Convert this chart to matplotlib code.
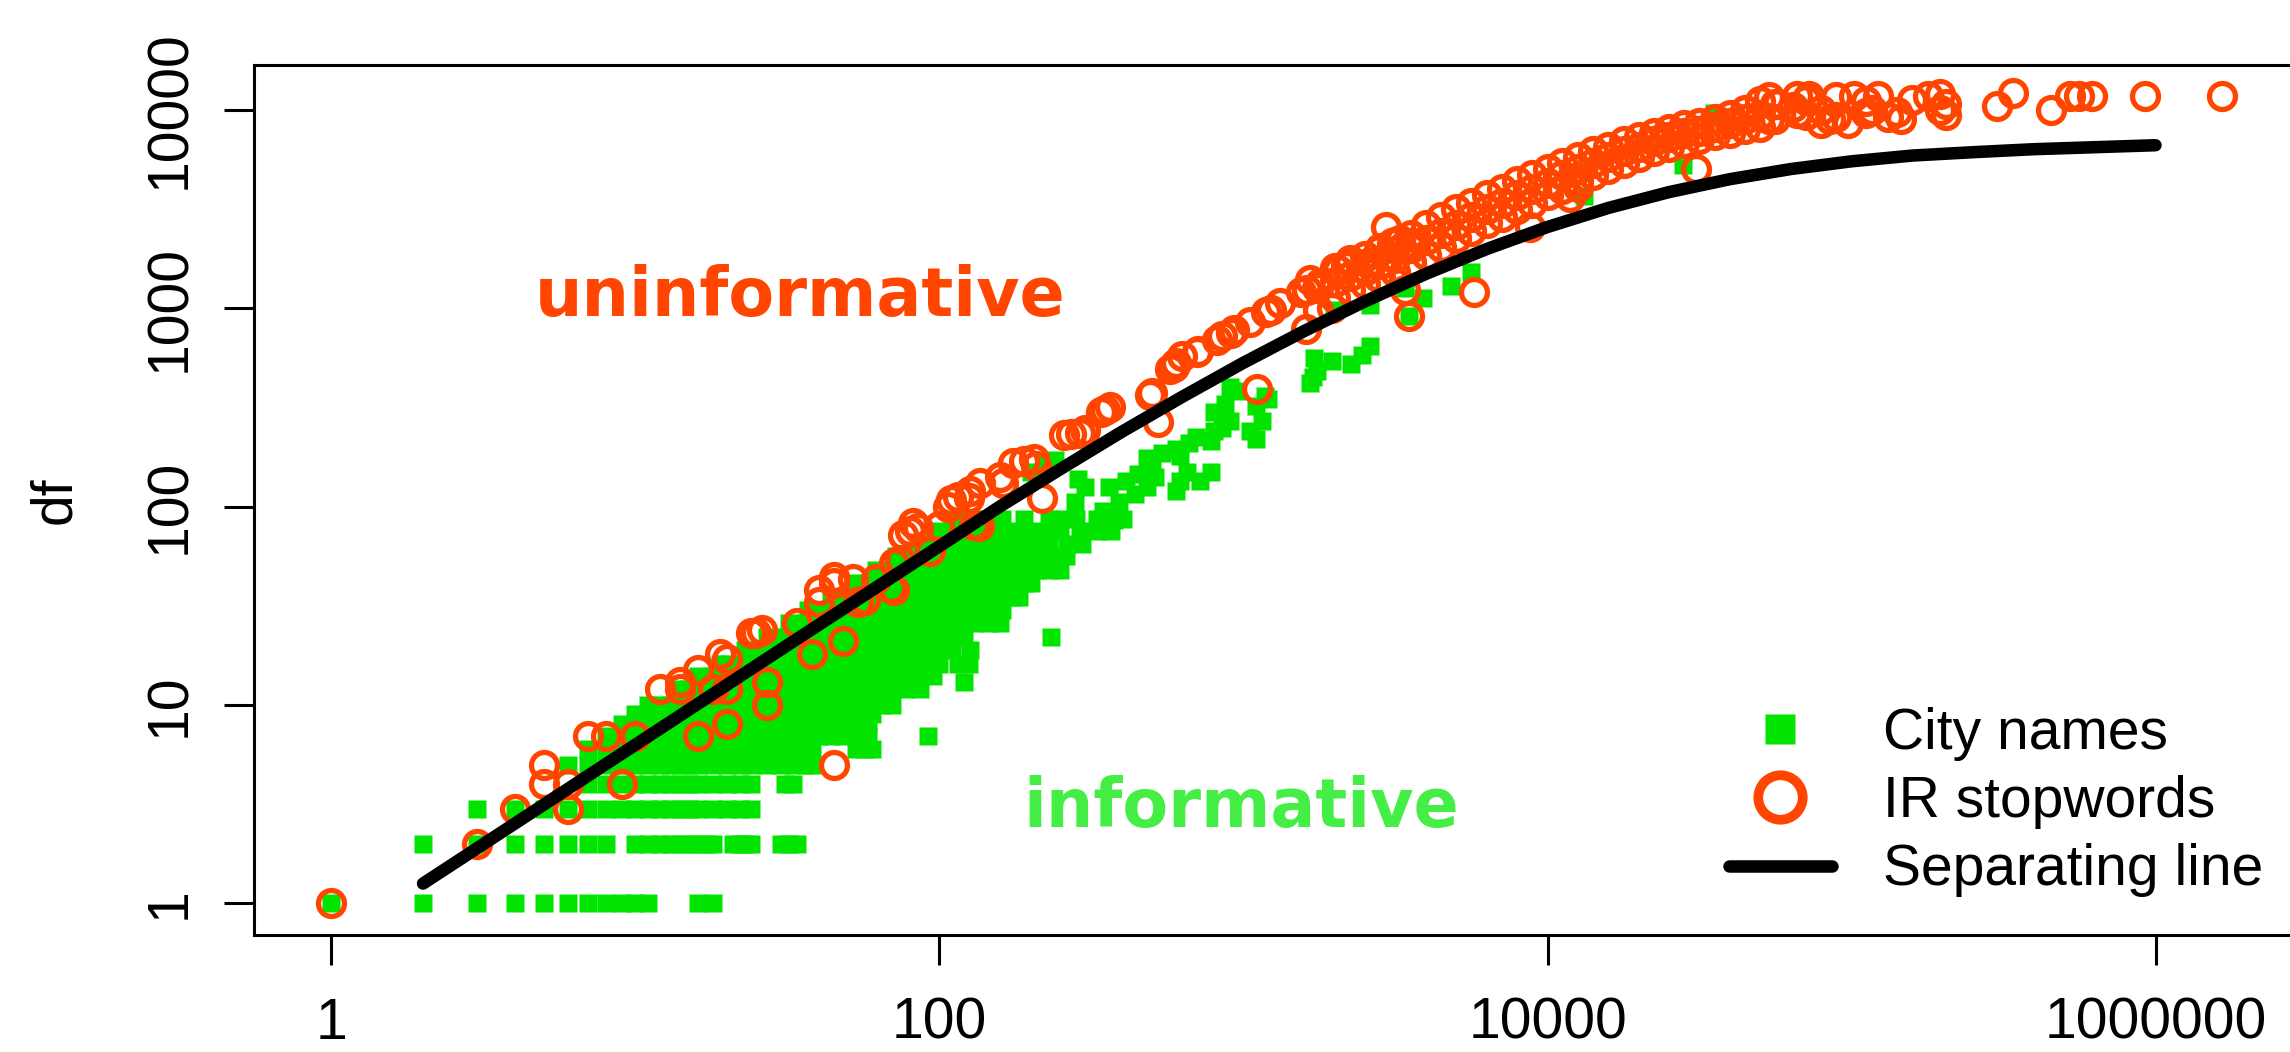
import matplotlib.pyplot as plt
from matplotlib.lines import Line2D
from matplotlib.ticker import NullLocator

plt.rcParams['font.family'] = ['Liberation Sans', 'DejaVu Sans']

# cores
green = '#00e400'
green_text = '#44ee44'
orange = '#ff4500'

# City names: linhas densas (df fixo, varios tf)
city_row_df = [1, 2, 3, 4, 5, 6, 7, 8, 9, 10, 12, 14, 16, 19, 22, 26, 30, 35, 41, 48, 56, 65, 75, 87]
city_row_tf = [
    [1, 2, 3, 4, 5, 6, 7, 8, 9, 10, 11, 16, 18],
    [2, 3, 4, 5, 6, 7, 8, 10, 11, 12, 13, 14, 15, 16, 17, 18, 21, 22, 23, 24, 30, 32, 34],
    [3, 4, 5, 6, 7, 8, 9, 10, 11, 12, 13, 14, 15, 16, 18, 20, 22, 24],
    [7, 8, 9, 10, 11, 12, 13, 14, 15, 16, 18, 20, 22, 24, 31, 33],
    [6, 7, 8, 9, 10, 11, 12, 13, 14, 15, 16, 18, 20, 22, 24, 27, 30, 33, 36, 38],
    [7, 8, 9, 10, 11, 12, 13, 14, 15, 16, 18, 20, 22, 24, 27, 30, 33, 36, 38, 53, 57, 60],
    [8, 9, 10, 11, 12, 13, 14, 15, 16, 18, 20, 22, 24, 27, 30, 33, 36, 40, 44, 48, 53, 58, 92],
    [9, 10, 11, 12, 13, 14, 15, 16, 18, 20, 22, 24, 27, 30, 33, 36, 40, 44, 48, 53, 58],
    [10, 11, 12, 13, 14, 15, 16, 18, 20, 22, 24, 27, 30, 33, 36, 40, 44, 48, 53, 60],
    [11, 12, 13, 14, 15, 16, 18, 20, 22, 24, 27, 30, 33, 36, 40, 44, 48, 53, 58, 64, 70],
    [14, 15, 16, 18, 20, 22, 24, 27, 30, 33, 36, 40, 44, 48, 53, 58, 64, 70, 77, 86],
    [16, 18, 20, 22, 24, 27, 30, 33, 36, 40, 44, 48, 53, 58, 64, 70, 77, 85, 95],
    [19, 20, 22, 24, 27, 30, 33, 36, 40, 44, 48, 53, 58, 64, 70, 77, 85, 93, 100, 115, 125],
    [23, 24, 27, 30, 33, 36, 40, 44, 48, 53, 58, 64, 70, 77, 85, 93, 100, 110, 126],
    [27, 30, 33, 36, 40, 44, 48, 53, 58, 64, 70, 77, 85, 93, 100, 110, 120],
    [32, 36, 40, 44, 48, 53, 58, 64, 70, 77, 85, 93, 100, 110, 120, 130, 145, 158],
    [37, 40, 44, 48, 53, 58, 64, 70, 77, 85, 93, 100, 110, 120, 130, 145, 160],
    [44, 48, 53, 58, 64, 70, 77, 85, 93, 100, 110, 120, 130, 145, 160, 175, 183],
    [52, 58, 64, 70, 77, 85, 93, 100, 110, 120, 130, 145, 160, 175, 190, 200],
    [62, 70, 77, 85, 93, 100, 110, 120, 130, 145, 160, 175, 190, 210, 230, 250],
    [72, 77, 85, 93, 100, 110, 120, 130, 145, 160, 175, 190, 210, 230, 260],
    [85, 93, 100, 110, 120, 130, 145, 160, 175, 190, 210, 230, 262, 295],
    [100, 110, 120, 130, 145, 160, 175, 190, 210, 230, 250, 290, 330, 367],
    [115, 130, 145, 160, 190, 230, 250, 282, 330, 373, 400],
]

# City names: pontos esparsos
city_tf = [120, 233, 220, 240, 200, 280, 300, 285, 345, 390, 360, 410, 375,
           440, 480, 450, 510, 500, 540, 480, 600, 660, 700, 620, 600, 650, 620,
           720, 780, 780, 850, 900, 800, 800, 870, 950, 900, 1050, 1150, 1100,
           1100, 1180, 1200, 1650, 1750, 1950, 1700, 1690, 2250, 2450, 2600,
           2600, 1990, 3400, 3900, 4800, 5620, 3500, 13200, 28000, 35300]
city_df = [13, 22, 165, 172, 150, 105, 125, 138, 95, 105, 125, 135, 86,
           115, 125, 145, 140, 160, 185, 175, 195, 210, 225, 180, 120, 150, 135,
           135, 150, 215, 250, 270, 240, 300, 330, 380, 400, 240, 270, 220,
           320, 360, 347, 420, 480, 540, 560, 447, 520, 580, 640,
           1040, 980, 1260, 1120, 1290, 1510, 910, 3650, 5260, 9600]

# IR stopwords: parte baixa e media
stop_tf = [1, 3, 4, 6, 5, 6, 9, 5, 7, 8, 10, 16, 20, 27, 12, 14, 18, 20, 14, 27,
           16, 20, 19, 38, 48, 24, 25, 26, 34, 40, 54, 57, 40, 45, 45, 52, 45,
           62, 69, 71, 71, 74, 76, 80, 85, 82, 100, 93, 107, 109, 115, 125, 126,
           136, 130, 135, 158, 162, 175, 190, 204, 208, 218, 257, 270, 290, 302,
           339, 350, 364, 491, 500, 524, 575, 590, 600, 630, 705, 710, 820, 850,
           910, 930, 1050, 1110, 1190, 1230, 1320, 1540, 1600, 1620, 1660, 1740,
           1760, 1790, 1950, 2040, 2180, 2240, 2530, 2560, 2760, 2800, 2940,
           3090, 3400, 3500, 3020, 3280, 3540, 5720, 8760, 30800]
stop_df = [1, 2, 3, 3, 4, 4, 4, 5, 7, 7, 7, 7, 8, 10, 12, 12, 12, 12, 13, 13,
           15, 17, 18, 18, 21, 23, 23, 24, 26, 33, 33, 34, 38, 41, 44, 43, 5,
           43, 39, 38, 52, 54, 72, 75, 78, 83, 80, 60, 100, 108, 112, 110, 120,
           132, 81, 80, 141, 132, 166, 170, 174, 160, 111, 229, 232, 235, 243,
           300, 305, 316, 365, 374, 268, 490, 507, 530, 570, 597, 610, 693, 720,
           752, 778, 850, 389, 950, 980, 1060, 1200, 780, 1230, 1380, 1260,
           980, 1340, 1000, 1560, 1620, 1740, 1550, 1690, 1440, 1950, 2570,
           2120, 1230, 910, 1820, 2200, 2130, 1200, 2570, 5000]

# IR stopwords: faixa densa (tf 2000 a 50000)
band_tf = [2000, 2000, 2000, 2240, 2240, 2240, 2510, 2510, 2510, 2820, 2820, 2820,
           3160, 3160, 3160, 3550, 3550, 3550, 3980, 3980, 3980, 4470, 4470, 4470,
           5010, 5010, 5010, 5620, 5620, 5620, 6310, 6310, 6310, 7080, 7080, 7080,
           7940, 7940, 7940, 8910, 8910, 8910, 10000, 10000, 10000, 11200, 11200, 11200,
           12600, 12600, 12600, 14100, 14100, 14100, 15800, 15800, 15800,
           17800, 17800, 17800, 20000, 20000, 20000, 22400, 22400, 22400,
           25100, 25100, 25100, 28200, 28200, 28200, 31600, 31600, 31600,
           35500, 35500, 35500, 39800, 39800, 39800, 44700, 44700, 44700,
           50100, 50100, 50100, 11900, 12600]
band_df = [1120, 1350, 1585, 1230, 1445, 1700, 1320, 1550, 1820, 1410, 1660, 2000,
           1510, 1780, 2140, 1700, 2000, 2340, 1860, 2190, 2630, 2040, 2400, 2880,
           2240, 2630, 3160, 2450, 2880, 3390, 2690, 3160, 3720, 2880, 3390, 3980,
           3160, 3720, 4370, 3390, 3980, 4680, 3720, 4270, 5010, 3980, 4680, 5370,
           4370, 5010, 5750, 4680, 5370, 6170, 5010, 5750, 6460,
           5370, 6170, 6920, 5750, 6460, 7240, 6170, 6920, 7590,
           6460, 7240, 7940, 6760, 7590, 8320, 7080, 7760, 8510,
           7410, 8130, 8910, 7590, 8510, 9330, 7940, 8910, 10000,
           8130, 9330, 11000, 3630, 4070]

# IR stopwords: grupo do topo (tf > 50000)
top_tf = [53700, 53700, 56200, 56200, 57500, 64300, 66100, 66100, 70800, 70800,
          72400, 79400, 79400, 85100, 89100, 89100, 97700, 102000, 112000, 112000,
          117000, 122000, 132000, 141000, 145000, 158000, 178000, 195000, 195000,
          204000, 204000, 302000, 339000, 452000, 525000, 562000, 617000, 927000,
          1660000]
top_df = [11600, 8910, 8910, 10700, 10700, 10300, 11700, 9550, 9330, 11200,
          11700, 8510, 10000, 8910, 9120, 11500, 8510, 11700, 9550, 11000,
          10000, 11700, 9190, 9770, 8910, 11200, 11700, 12000, 10000,
          10700, 9330, 10400, 12100, 10000, 11700, 11700, 11700, 11700,
          11700]

# linha de separacao
sep_tf = [2, 10, 31.6, 100, 158, 251, 398, 631, 1000, 1585, 2512, 3981, 6310,
          10000, 15850, 25120, 39810, 63100, 100000, 158500, 251200, 398100,
          631000, 1000000]
sep_df = [1.26, 6.31, 20.0, 63.1, 100, 155, 238, 358, 530, 766, 1081, 1486, 1982,
          2559, 3192, 3837, 4457, 5012, 5483, 5861, 6095, 6310, 6457, 6607]

xticks = [1, 100, 10000, 1000000]
xtick_labels = ['1', '100', '10000', '1000000']
yticks = [1, 10, 100, 1000, 10000]
ytick_labels = ['1', '10', '100', '1000', '10000']

W, H = 2290, 1052
fig = plt.figure(figsize=(W / 100, H / 100), dpi=100)
ax = fig.add_axes([254 / W, 1 - 935 / H, (2300 - 254) / W, (935 - 65) / H])
ax.set_xscale('log')
ax.set_yscale('log')
ax.set_xlim(10 ** -0.2549, 10 ** 6.4753)
ax.set_ylim(10 ** -0.1587, 10 ** 4.2242)

# pontos verdes
for d, tfs in zip(city_row_df, city_row_tf):
    ax.plot(tfs, [d] * len(tfs), ls='none', marker='s', ms=13, mfc=green,
            mec='none', zorder=2)
ax.plot(city_tf, city_df, ls='none', marker='s', ms=13, mfc=green, mec='none', zorder=2)

# circulos vermelhos
circ = dict(ls='none', marker='o', ms=18.7, mfc='none', mec=orange, mew=3.8, zorder=3)
ax.plot(stop_tf, stop_df, **circ)
ax.plot(band_tf, band_df, **circ)
ax.plot(top_tf, top_df, **circ)

# linha preta
ax.plot(sep_tf, sep_df, color='black', lw=9, solid_capstyle='round',
        solid_joinstyle='round', zorder=4)

# eixos
for sp in ax.spines.values():
    sp.set_linewidth(2.2)
ax.xaxis.set_minor_locator(NullLocator())
ax.yaxis.set_minor_locator(NullLocator())
ax.set_xticks(xticks)
ax.set_xticklabels(xtick_labels)
ax.set_yticks(yticks)
ax.set_yticklabels(ytick_labels, rotation=90, va='center')
ax.tick_params(direction='out', length=21.6, width=2.2, labelsize=41)
ax.tick_params(axis='x', pad=23)
ax.tick_params(axis='y', pad=19.5)
fig.text(55 / W, 1 - 500 / H, 'df', rotation=90, ha='center', va='center', fontsize=41)

# textos das regioes
ax.text(34.8, 912, 'uninformative', color=orange, fontsize=48, fontweight='bold',
        family='DejaVu Sans', ha='center', va='baseline', zorder=5)
ax.text(982, 2.43, 'informative', color=green_text, fontsize=48, fontweight='bold',
        family='DejaVu Sans', ha='center', va='baseline', zorder=5)

# legenda
handles = [
    Line2D([], [], ls='none', marker='s', ms=22, mfc=green, mec='none'),
    Line2D([], [], ls='none', marker='o', ms=32, mfc='none', mec=orange, mew=7),
    Line2D([], [], color='black', lw=9, solid_capstyle='round'),
]
ax.legend(handles, ['City names', 'IR stopwords', 'Separating line'],
          loc='upper left', bbox_to_anchor=(1729 / W, 1 - 707 / H),
          bbox_transform=fig.transFigure, frameon=False, fontsize=41,
          borderpad=0, borderaxespad=0, handlelength=1.8, handletextpad=0.9,
          labelspacing=0.25, numpoints=1)

fig.savefig('out.png', dpi=100)
